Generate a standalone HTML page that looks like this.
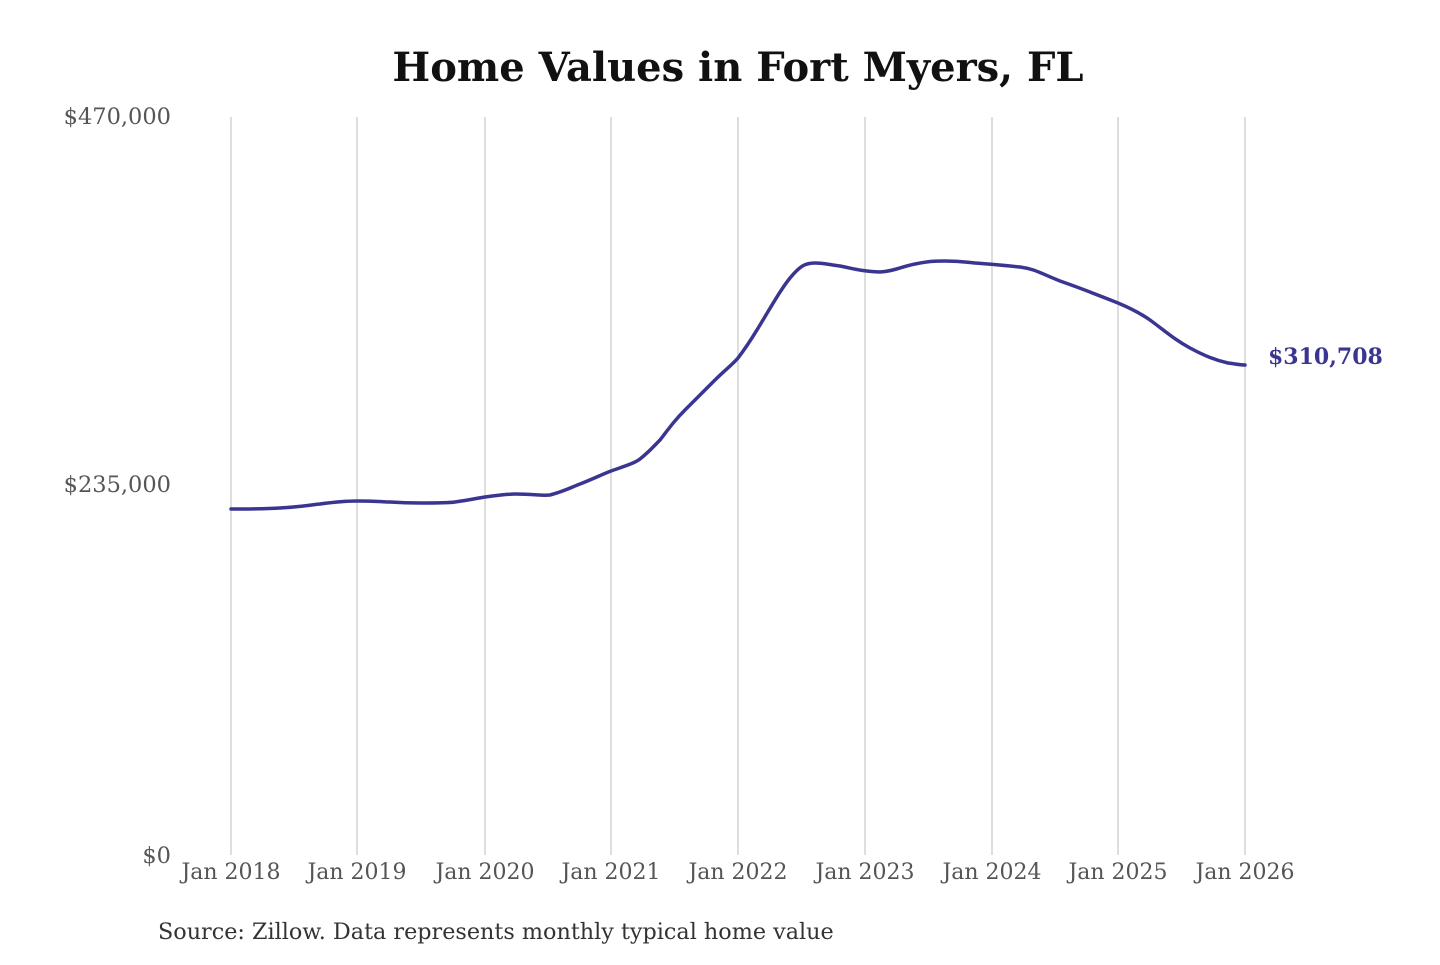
<!DOCTYPE html>
<html><head><meta charset="utf-8"><style>
html,body{margin:0;padding:0;background:#fff;}
svg text{font-family:"DejaVu Serif","Liberation Serif",serif;}
</style></head><body>
<svg width="1440" height="960" viewBox="0 0 1440 960" xmlns="http://www.w3.org/2000/svg">
<rect width="1440" height="960" fill="#fff"/>
<text x="738" y="81" text-anchor="middle" font-size="40" font-weight="bold" fill="#111">Home Values in Fort Myers, FL</text>
<g stroke="#c8c8c8" stroke-width="1.2">
<line x1="231" y1="117" x2="231" y2="855"/>
<line x1="357" y1="117" x2="357" y2="855"/>
<line x1="485" y1="117" x2="485" y2="855"/>
<line x1="611" y1="117" x2="611" y2="855"/>
<line x1="738" y1="117" x2="738" y2="855"/>
<line x1="865" y1="117" x2="865" y2="855"/>
<line x1="992" y1="117" x2="992" y2="855"/>
<line x1="1118" y1="117" x2="1118" y2="855"/>
<line x1="1245" y1="117" x2="1245" y2="855"/>
</g>
<g font-size="22.5" fill="#555" text-anchor="end">
<text x="171" y="124">$470,000</text>
<text x="171" y="492">$235,000</text>
<text x="171" y="863">$0</text>
</g>
<g font-size="22" fill="#555" text-anchor="middle">
<text x="231" y="879">Jan 2018</text>
<text x="357" y="879">Jan 2019</text>
<text x="485" y="879">Jan 2020</text>
<text x="611" y="879">Jan 2021</text>
<text x="738" y="879">Jan 2022</text>
<text x="865" y="879">Jan 2023</text>
<text x="992" y="879">Jan 2024</text>
<text x="1118" y="879">Jan 2025</text>
<text x="1245" y="879">Jan 2026</text>
</g>
<path fill="none" stroke="#3a3590" stroke-width="3.5" stroke-linejoin="round" stroke-linecap="round"
d="M231,509 C250,509 265,509 280,508 C300,507 310,505 320,504 C335,502 345,501 357,501 C375,501 385,502 390,502 C405,503 412,503 420,503 C440,503 448,503 455,502 C470,500 478,498 485,497 C500,495 508,494 515,494 C535,494 542,496 550,495 C565,491 572,487 580,484 C595,478 603,474 611,471 C625,466 635,463 640,459 C650,451 653,447 660,440 C670,427 675,420 685,410 C700,395 705,390 715,380 C725,370 732,365 738,358 C748,345 752,338 760,325 C775,300 782,288 790,278 C800,266 805,263 815,263 C825,263 830,265 840,266 C855,269 860,271 880,272 C895,271 900,267 915,264 C930,261 935,261 945,261 C960,261 965,262 975,263 C990,264 1000,265 1020,267 C1035,269 1040,273 1060,281 C1080,288 1085,290 1095,294 C1108,299 1113,301 1118,303 C1130,308 1140,313 1150,320 C1165,331 1175,340 1190,348 C1205,356 1215,360 1228,363 C1236,364 1240,365 1245,365"/>
<text x="1268" y="364" font-size="22" font-weight="bold" fill="#3a3590">$310,708</text>
<text x="158" y="939" font-size="22.3" fill="#333">Source: Zillow. Data represents monthly typical home value</text>
</svg>
</body></html>
